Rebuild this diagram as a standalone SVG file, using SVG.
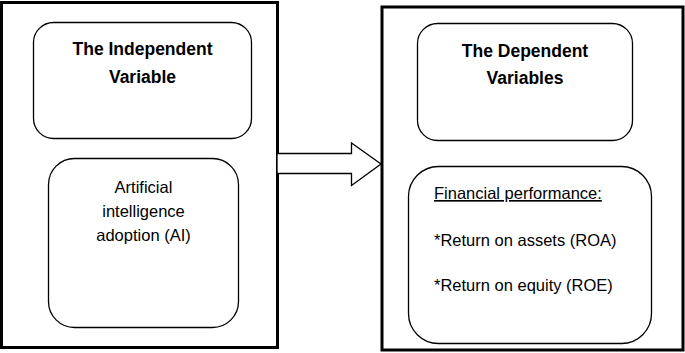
<svg xmlns="http://www.w3.org/2000/svg" width="685" height="353" viewBox="0 0 685 353">
<style>
.outer{fill:#fff;stroke:#000;stroke-width:3}
.inner{fill:#fff;stroke:#000;stroke-width:1.3}
.t{font-family:"Liberation Sans",Arial,sans-serif;font-size:16.5px;fill:#000}
.b{font-weight:bold;font-size:17.5px}
.c{text-anchor:middle}
</style>
<rect width="685" height="353" fill="#fff"/>
<g id="independent-panel">
<rect class="outer" x="1.5" y="2.5" width="276" height="345"/>
</g>
<g id="dependent-panel">
<rect class="outer" x="382" y="7" width="301" height="343"/>
</g>
<g id="independent-title">
<rect class="inner" x="33.5" y="22.5" width="218" height="116" rx="20"/>
<text class="t b c" x="142.5" y="55">The Independent</text>
<text class="t b c" x="142.5" y="83">Variable</text>
</g>
<g id="ai">
<rect class="inner" x="48.5" y="158.5" width="190" height="169" rx="26"/>
<text class="t c" x="143.5" y="193">Artificial</text>
<text class="t c" x="143.5" y="217">intelligence</text>
<text class="t c" x="143.5" y="241">adoption (AI)</text>
</g>
<g id="dependent-title">
<rect class="inner" x="417.5" y="23.5" width="215" height="117" rx="20"/>
<text class="t b c" x="525" y="57">The Dependent</text>
<text class="t b c" x="525" y="84">Variables</text>
</g>
<g id="financial">
<rect class="inner" x="408.5" y="166.5" width="243" height="177" rx="30"/>
<text class="t" x="434" y="199" text-decoration="underline">Financial performance:</text>
<text class="t" x="434" y="246">*Return on assets (ROA)</text>
<text class="t" x="434" y="291">*Return on equity (ROE)</text>
</g>
<g id="connectors">
<polygon points="277,153.5 351.5,153.5 351.5,143 381,164 351.5,185.5 351.5,173.5 277,173.5" fill="#fff" stroke="#000" stroke-width="1.3"/>
</g>
</svg>
